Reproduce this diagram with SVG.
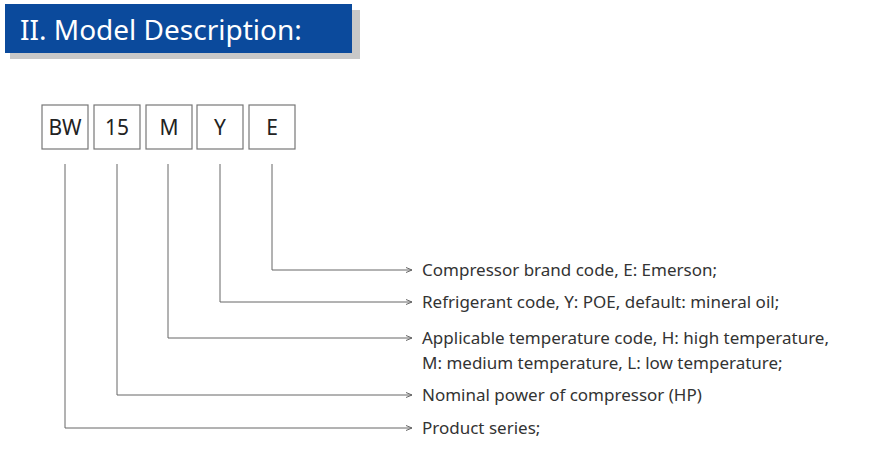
<svg xmlns="http://www.w3.org/2000/svg" width="869" height="449" viewBox="0 0 869 449">
<style>
.t{font-family:"Noto Sans","Open Sans",sans-serif;font-size:17px;fill:#333}
.b{fill:#fff;stroke:#777;stroke-width:1.2}
.bt{font-family:"Noto Sans",sans-serif;font-size:21px;fill:#222;text-anchor:middle}
.c{fill:none;stroke:#666;stroke-width:1}
</style>
<defs><marker id="a" viewBox="0 0 8 8" refX="7" refY="4" markerWidth="8" markerHeight="8" markerUnits="userSpaceOnUse" orient="auto"><path d="M1,1.5 L7,4 L1,6.5" fill="none" stroke="#666" stroke-width="1"/></marker></defs>
<rect width="869" height="449" fill="#fff"/>
<g id="header">
<rect x="10" y="10" width="350" height="49" fill="#c8c8c8"/>
<rect x="5" y="4" width="347" height="49" fill="#0b4a9c"/>
<text x="20" y="40" font-family="Noto Sans,sans-serif" font-size="28" fill="#fff">II. Model Description:</text>
</g>
<g id="BW"><rect class="b" x="42" y="105" width="46" height="44"/><text class="bt" x="65" y="135">BW</text></g>
<g id="n15"><rect class="b" x="94" y="105" width="46" height="44"/><text class="bt" x="117" y="135">15</text></g>
<g id="M"><rect class="b" x="146" y="105" width="46" height="44"/><text class="bt" x="169" y="135">M</text></g>
<g id="Y"><rect class="b" x="197" y="105" width="46" height="44"/><text class="bt" x="220" y="135">Y</text></g>
<g id="E"><rect class="b" x="249" y="105" width="46" height="44"/><text class="bt" x="272" y="135">E</text></g>
<g id="connectors">
<path class="c" marker-end="url(#a)" d="M272,164 V270 H412"/>
<path class="c" marker-end="url(#a)" d="M220,164 V302 H412"/>
<path class="c" marker-end="url(#a)" d="M168,164 V338 H412"/>
<path class="c" marker-end="url(#a)" d="M117,164 V395 H412"/>
<path class="c" marker-end="url(#a)" d="M65,164 V428 H412"/>
</g>
<g id="labels">
<text class="t" x="422" y="276">Compressor brand code, E: Emerson;</text>
<text class="t" x="422" y="308">Refrigerant code, Y: POE, default: mineral oil;</text>
<text class="t" x="422" y="344">Applicable temperature code, H: high temperature,</text>
<text class="t" x="422" y="369">M: medium temperature, L: low temperature;</text>
<text class="t" x="422" y="401">Nominal power of compressor (HP)</text>
<text class="t" x="422" y="434">Product series;</text>
</g>
</svg>
